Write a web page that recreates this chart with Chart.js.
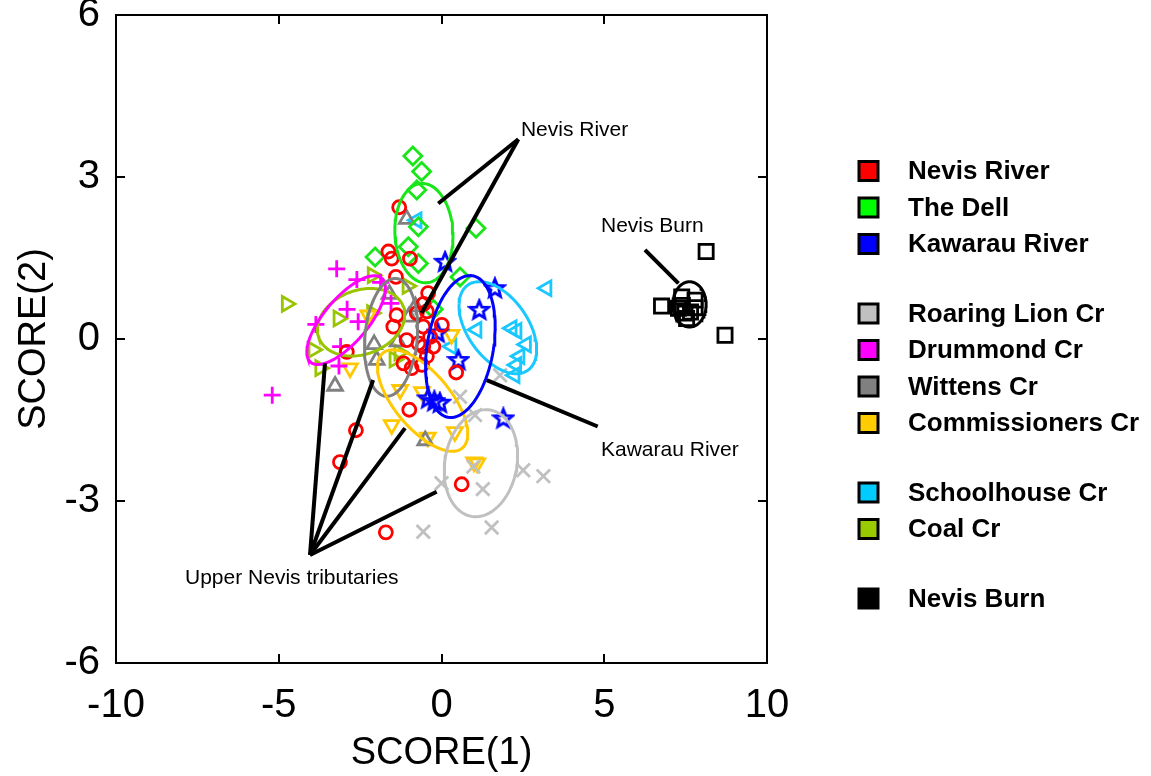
<!DOCTYPE html>
<html><head><meta charset="utf-8">
<script src="https://cdn.jsdelivr.net/npm/chart.js@4.4.1/dist/chart.umd.min.js"></script>
<style>html,body{margin:0;padding:0;background:#fff}#wrap{width:1151px;height:776px;position:relative}</style>
</head><body><div id="wrap"><canvas id="c" width="1151" height="776"></canvas></div>
<script>
// ---- tick labels ----
const xTicks = [-10, -5, 0, 5, 10];
const yTicks = [-6, -3, 0, 3, 6];

// ---- series (SCORE(1), SCORE(2)) ----
const nevisRiver = [[-1.30,2.44],[-1.63,1.62],[-1.53,1.49],[-0.97,1.49],[-1.40,1.15],[-0.41,0.85],[-0.55,0.65],[-1.38,0.44],[-0.45,0.51],[-0.76,0.48],[-1.48,0.23],[-0.56,0.23],[0.01,0.26],[-0.35,0.04],[-1.07,-0.02],[-0.71,-0.08],[-0.56,-0.14],[-0.25,-0.14],[-0.45,-0.32],[-0.60,-0.48],[-2.91,-0.24],[-1.17,-0.45],[-0.92,-0.54],[0.45,-0.62],[-0.99,-1.31],[-2.63,-1.69],[-3.12,-2.28],[0.62,-2.69],[-1.71,-3.58]];
const theDell = [[-0.88,3.39],[-0.61,3.10],[-0.76,2.76],[-0.71,2.08],[1.06,2.05],[-1.02,1.71],[-2.04,1.52],[-0.71,1.40],[0.57,1.15],[-0.25,0.55]];
const kawarauRiver = [[0.11,1.43],[1.64,0.94],[1.16,0.54],[-0.12,0.12],[0.52,-0.39],[-0.41,-1.10],[-0.22,-1.15],[-0.05,-1.18],[1.90,-1.47]];
const roaringLion = [[1.80,-0.67],[0.57,-1.07],[1.03,-1.41],[0.98,-2.36],[2.51,-2.43],[3.13,-2.54],[0.00,-2.67],[1.27,-2.78],[-0.56,-3.57],[1.54,-3.49]];
const drummond = [[-3.22,1.30],[-2.60,1.10],[-1.87,1.05],[-1.55,0.66],[-2.90,0.55],[-2.56,0.32],[-3.86,0.27],[-3.10,-0.14],[-3.15,-0.50],[-5.20,-1.04]];
const wittens = [[-1.07,2.22],[-1.60,0.83],[-1.00,0.41],[-0.80,0.60],[-2.07,-0.10],[-1.99,-0.39],[-3.27,-0.87],[-0.50,-1.88],[-1.35,-0.05]];
const commissioners = [[-2.81,-0.54],[-2.25,0.44],[-1.27,-0.94],[-0.60,-0.98],[0.31,0.08],[-1.53,-1.59],[-0.42,-1.82],[0.41,-1.72],[1.00,-2.28],[1.10,-2.30]];
const schoolhouse = [[3.23,0.94],[1.08,0.17],[2.16,0.20],[2.31,0.15],[2.60,-0.10],[2.40,-0.32],[2.30,-0.48],[2.25,-0.67],[0.31,-0.14],[-0.76,2.20]];
const coal = [[-4.76,0.65],[-2.12,1.18],[-1.05,0.98],[-3.17,0.38],[-2.14,0.48],[-3.94,-0.20],[-3.73,-0.54],[-1.45,-0.38],[-1.30,-0.25]];
const nevisBurn = [[8.13,1.62],[6.76,0.61],[8.71,0.07],[7.38,0.78],[7.79,0.72],[7.79,0.58],[7.28,0.57],[7.48,0.48],[7.53,0.38],[7.40,0.62],[7.65,0.50]];

// ---- group ellipses: [cx, cy, ux, uy, vx, vy] (conjugate semi-axes) ----
const dellEll = [-0.54,1.96,-0.08,0.92,-0.89,-0.03];
const kawarauEll = [0.58,-0.14,0.38,1.31,-1.00,0.11];
const schoolEll = [1.73,0.21,0.92,-0.79,0.76,0.32];
const roaringEll = [1.21,-2.30,0.29,0.985,-1.09,0.116];
const commEll = [-0.58,-1.14,1.22,-0.88,0.66,0.33];
const wittensEll = [-1.55,0.03,0.16,1.09,-0.80,0.04];
const drummondEll = [-2.93,0.35,1.09,0.78,-0.52,0.26];
const coalEll = [-2.47,0.31,1.30,0.285,-0.335,0.557];
const burnEll = [7.62,0.64,0,0.42,-0.51,0];

// ---- annotation leader lines ----
const nevisRiverLines = [[[2.36,3.70],[-0.10,2.51]],[[2.36,3.70],[-0.61,0.48]]];
const kawarauLines = [[[1.39,-0.76],[4.80,-1.62]]];
const burnLines = [[[6.25,1.65],[7.28,1.03]]];
const upperNevisLines = [[[-4.04,-4.0],[-3.58,-0.45]],[[-4.04,-4.0],[-2.10,-0.76]],[[-4.04,-4.0],[-1.12,-1.65]],[[-4.04,-4.0],[-0.15,-2.83]]];
const annotationTexts = ['Nevis River','Nevis Burn','Kawarau River','Upper Nevis tributaries'];
const annotationAt = [[2.44,3.87],[4.90,2.09],[4.90,-2.06],[-7.88,-4.43]];

// ---- legend ----
const legendLabels = ['Nevis River','The Dell','Kawarau River','Roaring Lion Cr','Drummond Cr','Wittens Cr','Commissioners Cr','Schoolhouse Cr','Coal Cr','Nevis Burn'];
const legendColors = ['#ff0000','#00ff00','#0000ff','#c0c0c0','#ff00ff','#808080','#ffcc00','#00ccff','#99cc00','#000000'];
const legendGroups = [0,0,0,1,1,1,1,2,2,3];

// star marker
function makeStar(color){
  const c = document.createElement('canvas'); c.width = 24; c.height = 24;
  const g = c.getContext('2d'); g.strokeStyle = color; g.lineWidth = 2.8; g.lineJoin='miter';
  g.beginPath();
  for (let i=0;i<10;i++){
    const r = i%2===0 ? 9.5 : 4.2; const a = -Math.PI/2 + i*Math.PI/5;
    const px = 12 + r*Math.cos(a), py = 12.5 + r*Math.sin(a);
    i===0 ? g.moveTo(px,py) : g.lineTo(px,py);
  }
  g.closePath(); g.stroke(); return c;
}

const toPts = arr => arr.map(p => ({x:p[0], y:p[1]}));
function ellipsePts(e){
  const pts = [];
  for (let d=0; d<=360; d+=4){ const t=d*Math.PI/180;
    pts.push({x:e[0]+e[2]*Math.cos(t)+e[4]*Math.sin(t), y:e[1]+e[3]*Math.cos(t)+e[5]*Math.sin(t)}); }
  return pts;
}

const pointSets = [
  {d:nevisRiver, c:'#ff0000', s:'circle', r:6.5, rot:0},
  {d:theDell, c:'#19e619', s:'rectRot', r:9, rot:0},
  {d:kawarauRiver, c:'#0000ff', s:makeStar('#0000ff'), r:9, rot:0},
  {d:roaringLion, c:'#c0c0c0', s:'crossRot', r:9.5, rot:0},
  {d:drummond, c:'#ff00ff', s:'cross', r:8.5, rot:0},
  {d:wittens, c:'#808080', s:'triangle', r:8.5, rot:0},
  {d:commissioners, c:'#ffc800', s:'triangle', r:8.5, rot:180},
  {d:schoolhouse, c:'#19c8ff', s:'triangle', r:8.5, rot:270},
  {d:coal, c:'#99c400', s:'triangle', r:8.5, rot:90},
  {d:nevisBurn, c:'#000000', s:'rect', r:10, rot:0}
];
const ellSets = [
  {e:dellEll, c:'#19e619'},{e:kawarauEll, c:'#0000ff'},{e:schoolEll, c:'#19c8ff'},
  {e:roaringEll, c:'#c0c0c0'},{e:commEll, c:'#ffc800'},{e:wittensEll, c:'#808080'},
  {e:drummondEll, c:'#ff00ff'},{e:coalEll, c:'#99c400'},{e:burnEll, c:'#000000'}
];

const datasets = [];
[nevisRiverLines, kawarauLines, burnLines, upperNevisLines].forEach(group => group.forEach(seg => {
  datasets.push({type:'line', data:toPts(seg), borderColor:'#000', borderWidth:4, pointRadius:0, showLine:true, fill:false, order:0});
}));
ellSets.forEach(s => datasets.push({type:'line', data:ellipsePts(s.e), borderColor:s.c, borderWidth:3, pointRadius:0, showLine:true, fill:false, tension:0, order:1}));
pointSets.forEach(s => datasets.push({type:'scatter', data:toPts(s.d), pointStyle:s.s, pointRadius:s.r, rotation:s.rot,
  borderColor:s.c, backgroundColor:'rgba(0,0,0,0)', pointBorderWidth:2.8, borderWidth:2.8, order:2}));

const FONT = '"Liberation Sans", Arial, Helvetica, sans-serif';

const decor = {
  id:'decor',
  afterDraw(chart){
    const ctx = chart.ctx, a = chart.chartArea, xs = chart.scales.x, ys = chart.scales.y;
    ctx.save();
    ctx.strokeStyle = '#000'; ctx.lineWidth = 2;
    ctx.strokeRect(a.left, a.top, a.right-a.left, a.bottom-a.top);
    const tl = 9;
    ctx.beginPath();
    xTicks.forEach(v => { const px = Math.round(xs.getPixelForValue(v));
      ctx.moveTo(px, a.bottom); ctx.lineTo(px, a.bottom - tl); ctx.moveTo(px, a.top); ctx.lineTo(px, a.top + tl); });
    yTicks.forEach(v => { const py = Math.round(ys.getPixelForValue(v));
      ctx.moveTo(a.left, py); ctx.lineTo(a.left + tl, py); ctx.moveTo(a.right, py); ctx.lineTo(a.right - tl, py); });
    ctx.stroke();
    // annotation labels
    ctx.fillStyle = '#000'; ctx.font = '21px ' + FONT; ctx.textAlign = 'left'; ctx.textBaseline = 'middle';
    annotationTexts.forEach((t,i) => ctx.fillText(t, xs.getPixelForValue(annotationAt[i][0]), ys.getPixelForValue(annotationAt[i][1])));
    // legend
    ctx.font = 'bold 26px ' + FONT;
    legendLabels.forEach((t,i) => {
      const cy = 171 + i*36.5 + legendGroups[i]*33;
      ctx.fillStyle = legendColors[i]; ctx.fillRect(859, cy-9.5, 19, 19);
      ctx.lineWidth = 3; ctx.strokeStyle = '#000'; ctx.strokeRect(859, cy-9.5, 19, 19);
      ctx.fillStyle = '#000'; ctx.fillText(t, 908, cy+1);
    });
    ctx.restore();
  }
};

new Chart(document.getElementById('c'), {
  type:'scatter',
  data:{datasets},
  plugins:[decor],
  options:{
    responsive:false, animation:false, devicePixelRatio:1, events:[],
    layout:{padding:{left:0, top:15, right:384, bottom:0}},
    plugins:{legend:{display:false}, tooltip:{enabled:false}},
    scales:{
      x:{type:'linear', min:-10, max:10,
        afterBuildTicks:s => { s.ticks = xTicks.map(v => ({value:v})); },
        afterFit:s => { s.height = 113; s.paddingLeft = 0; s.paddingRight = 0; },
        grid:{display:false}, border:{display:false},
        ticks:{color:'#000', font:{family:FONT, size:40}, padding:11, maxRotation:0, callback:v => String(v)},
        title:{display:true, text:'SCORE(1)', color:'#000', font:{family:FONT, size:38}, padding:{top:0,bottom:0}}
      },
      y:{type:'linear', min:-6, max:6,
        afterBuildTicks:s => { s.ticks = yTicks.map(v => ({value:v})); },
        afterFit:s => { s.width = 116; s.paddingTop = 0; s.paddingBottom = 0; },
        grid:{display:false}, border:{display:false},
        ticks:{color:'#000', font:{family:FONT, size:40}, padding:8, callback:v => String(v)},
        title:{display:true, text:'SCORE(2)', color:'#000', font:{family:FONT, size:38}, padding:{top:12,bottom:0}}
      }
    }
  }
});
</script>
</body></html>
